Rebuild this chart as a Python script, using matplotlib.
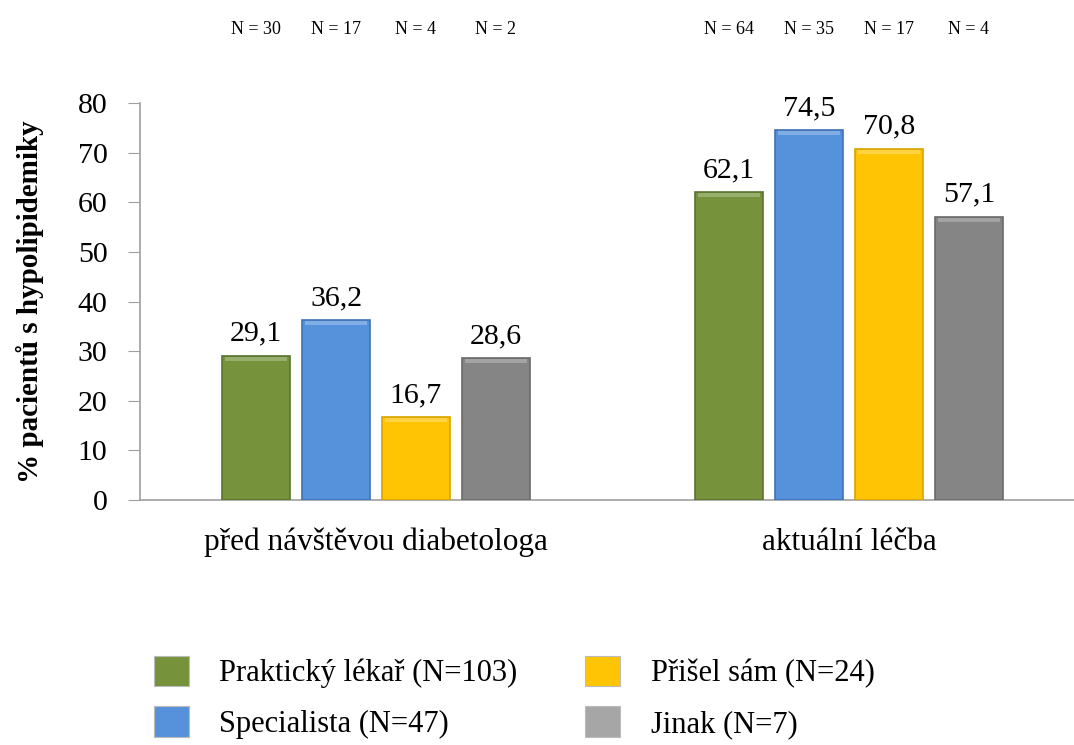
import numpy as np
import matplotlib.pyplot as plt

plt.rcParams['font.family'] = ['Liberation Serif', 'DejaVu Serif']

# data
categories = ['před návštěvou diabetologa', 'aktuální léčba']
series = ['Praktický lékař (N=103)', 'Specialista (N=47)', 'Přišel sám (N=24)', 'Jinak (N=7)']
values = [[29.1, 62.1],   # Praktický lékař
          [36.2, 74.5],   # Specialista
          [16.7, 70.8],   # Přišel sám
          [28.6, 57.1]]   # Jinak
n_labels = [['N = 30', 'N = 64'],
            ['N = 17', 'N = 35'],
            ['N = 4', 'N = 17'],
            ['N = 2', 'N = 4']]
colors = ['#76933C', '#5592DB', '#FFC505', '#858585']
edges = ['#5A7330', '#3F73B5', '#D9A300', '#6A6A6A']
legend_colors = ['#76933C', '#5592DB', '#FFC505', '#A6A6A6']

fig = plt.figure(figsize=(10.74, 7.45), dpi=100)
ax = fig.add_axes([0.1299, 0.3289, 0.8808, 0.5328])

x = np.arange(len(categories))
width = 0.143
step = 0.169
offsets = (np.arange(len(series)) - 1.5) * step

handles = []
for i in range(len(series)):
    xs = x + offsets[i]
    b = ax.bar(xs, values[i], width, color=colors[i], edgecolor=edges[i],
               linewidth=1.2, zorder=3)
    # light bevel strip at the top of each bar
    ax.bar(xs, [0.8] * len(xs), width * 0.92, bottom=np.array(values[i]) - 1.0,
           color='white', alpha=0.25, linewidth=0, zorder=4)
    for xi, v in zip(xs, values[i]):
        ax.text(xi, v + 1.8, f'{v:.1f}'.replace('.', ','), ha='center', va='bottom',
                fontsize=21.5, color='black')
    for xi, n in zip(xs, n_labels[i]):
        ax.text(xi, 1.0 + 0.185, n, transform=ax.get_xaxis_transform(),
                ha='center', va='center', fontsize=13)
    handles.append(plt.Rectangle((0, 0), 1, 1, facecolor=legend_colors[i],
                                 edgecolor='#BBBBBB', linewidth=0.8))

ax.set_xlim(-0.5, 1.5)
ax.set_ylim(0, 80)
ax.set_yticks(range(0, 81, 10))
ax.set_xticks(x)
ax.set_xticklabels(categories, fontsize=22.5)
ax.tick_params(axis='x', length=0, pad=20)
ax.tick_params(axis='y', labelsize=21.5, length=9, color='#A0A0A0', pad=14)
for s in ['top', 'right']:
    ax.spines[s].set_visible(False)
ax.spines['left'].set_color('#A0A0A0')
ax.spines['bottom'].set_color('#A0A0A0')
ax.spines['left'].set_linewidth(1.2)
ax.spines['bottom'].set_linewidth(1.2)
ax.set_ylabel('% pacientů s hypolipidemiky', fontsize=21, fontweight='bold', labelpad=24)

fig.legend(handles, series, ncol=2, loc='center', bbox_to_anchor=(0.4786, 0.064),
           frameon=False, fontsize=22, handlelength=1.15, handleheight=1.15,
           handletextpad=1.0, columnspacing=2.2, labelspacing=0.6)

fig.savefig('out.png', dpi=100)
